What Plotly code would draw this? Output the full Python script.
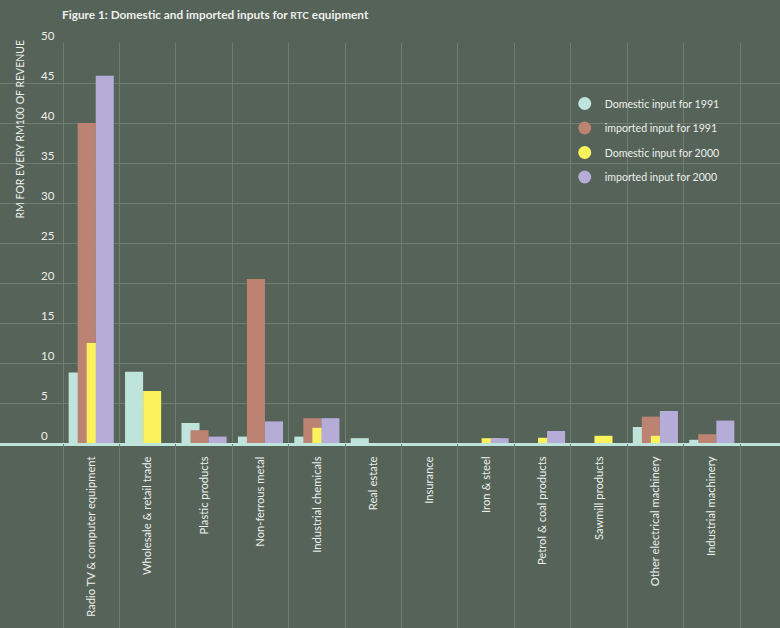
import plotly.graph_objects as go

categories = ["Radio TV & computer equipment", "Wholesale & retail trade", "Plastic products",
              "Non-ferrous metal", "Industrial chemicals", "Real estate", "Insurance",
              "Iron & steel", "Petrol & coal products", "Sawmill products",
              "Other electrical machinery", "Industrial machinery"]

domestic_1991 = [8.8, 8.9, 2.5, 0.8, 0.8, 0.6, 0, 0, 0, 0, 2.0, 0.4]
imported_1991 = [40.0, 0, 1.6, 20.5, 3.1, 0, 0, 0, 0, 0, 3.3, 1.1]
domestic_2000 = [12.5, 6.5, 0, 0, 1.9, 0, 0, 0.6, 0.65, 0.9, 0.9, 0]
imported_2000 = [45.9, 0, 0.8, 2.7, 3.1, 0, 0, 0.6, 1.5, 0, 4.0, 2.8]

series_names = ["Domestic input for 1991", "imported input for 1991",
                "Domestic input for 2000", "imported input for 2000"]
series_values = [domestic_1991, imported_1991, domestic_2000, imported_2000]
colors = ["#bfe4dc", "#bc8272", "#fbf35c", "#b5acd8"]
offsets = [-0.40, -0.24, -0.08, 0.08]
bar_width = 0.32

y_ticks = [0, 5, 10, 15, 20, 25, 30, 35, 40, 45, 50]

BG = "#556359"
GRID = "#6f7d73"
TXT = "#eef0ec"
FONT = "Lato"

n = len(categories)
xs = list(range(n))

fig = go.Figure()
for name, vals, col, off in zip(series_names, series_values, colors, offsets):
    fig.add_trace(go.Bar(x=xs, y=vals, name=name, marker=dict(color=col, line=dict(width=0)),
                         offset=off, width=bar_width, showlegend=False))

for name, col in zip(series_names, colors):
    fig.add_trace(go.Scatter(x=[None], y=[None], mode="markers", name=name, legendgroup=name,
                             marker=dict(symbol="circle", size=13, color=col)))

px_per_cat = 677 / 12
x_range = [-0.5 - 63 / px_per_cat, n - 0.5 + 40 / px_per_cat]

tick_annotations = [dict(text=str(v), x=39 / 780, y=v, xref="paper", yref="y",
                         xanchor="left", yanchor="bottom", yshift=-1, showarrow=False,
                         font=dict(family=FONT, size=11.5, color=TXT)) for v in y_ticks]

fig.update_layout(
    width=780, height=628,
    margin=dict(l=0, r=0, t=43, b=180, pad=0),
    paper_bgcolor=BG, plot_bgcolor=BG,
    barmode="overlay",
    font=dict(family=FONT, color=TXT),
    title=dict(text="<b>Figure 1: Domestic and imported inputs for <span style='font-size:10px'>RTC</span> equipment</b>",
               x=62 / 780, xanchor="left", xref="paper", y=1 - 15 / 628, yref="container",
               yanchor="middle", font=dict(family=FONT, size=11.8, color=TXT)),
    xaxis=dict(range=x_range, tickmode="array", tickvals=xs, ticktext=categories,
               tickangle=-90, tickfont=dict(family=FONT, size=11.2, color=TXT),
               showgrid=False, zeroline=False, showline=True, linecolor="#bfe4dc", linewidth=3,
               ticks="", ticklabelstandoff=6, fixedrange=True),
    xaxis2=dict(range=x_range, overlaying="x", side="bottom", anchor="y", tickmode="array",
                tickvals=[i - 0.5 for i in range(n + 1)], showticklabels=False,
                showgrid=True, gridcolor=GRID, gridwidth=1, ticks="outside", ticklen=185,
                tickcolor=GRID, tickwidth=1, zeroline=False, showline=False),
    yaxis=dict(range=[0, 50], tickmode="array", tickvals=y_ticks,
               showgrid=True, gridcolor=GRID, gridwidth=1, zeroline=False,
               showticklabels=False, ticks=""),
    legend=dict(x=0.724, y=0.885, xanchor="left", yanchor="top", bgcolor="rgba(0,0,0,0)",
                font=dict(family=FONT, size=10.6, color=TXT), tracegroupgap=5.5,
                traceorder="grouped", itemwidth=30),
    annotations=tick_annotations + [
        dict(text="RM FOR EVERY RM100 OF REVENUE", textangle=-90, xref="paper", yref="paper",
             x=20 / 780, y=1 + 5 / 405, xanchor="center", yanchor="top", showarrow=False,
             font=dict(family=FONT, size=10.5, color=TXT))],
)
# dummy trace to activate xaxis2
fig.add_trace(go.Scatter(x=[None], y=[None], xaxis="x2", showlegend=False))

fig.write_html("out.html", config={"displayModeBar": False},
               post_script="document.body.style.margin='0px';document.body.style.background='" + BG + "';")
